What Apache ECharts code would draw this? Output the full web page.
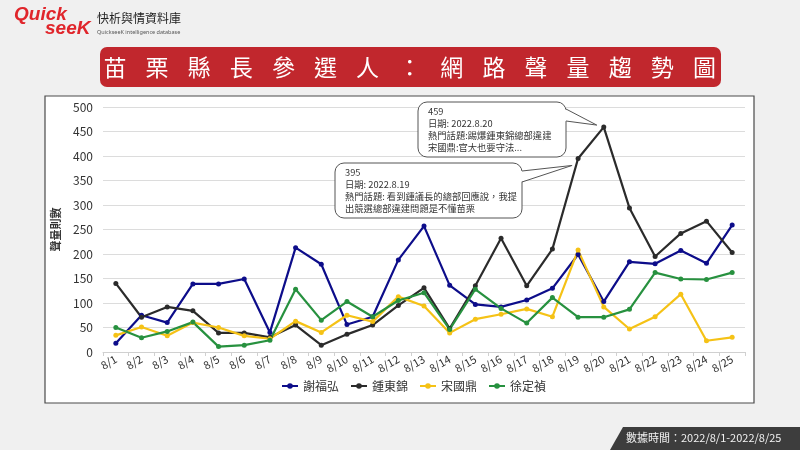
<!DOCTYPE html>
<html>
<head>
<meta charset="utf-8">
<script src="https://cdn.jsdelivr.net/npm/echarts@6/dist/echarts.min.js"></script>
<style>
html,body{margin:0;padding:0;background:#f0f0f0;}
#c{width:800px;height:450px;}
</style>
</head>
<body>
<div id="c"></div>
<script>
var categories = ['8/1','8/2','8/3','8/4','8/5','8/6','8/7','8/8','8/9','8/10','8/11','8/12','8/13','8/14','8/15','8/16','8/17','8/18','8/19','8/20','8/21','8/22','8/23','8/24','8/25'];
var seriesNames = ['謝福弘','鍾東錦','宋國鼎','徐定禎'];
var xieFuHong   = [18,75,60,139,139,149,40,213,179,56,72,188,257,136,97,92,106,130,199,103,184,180,207,181,259];
var zhongDongJin= [140,71,92,84,39,39,30,55,14,36,55,95,131,48,135,232,135,210,395,459,294,195,242,267,203];
var songGuoDing = [34,51,33,60,50,33,27,63,40,75,62,113,94,39,67,77,88,72,208,92,47,72,118,23,30];
var xuDingZhen  = [50,29,42,61,11,14,24,128,65,103,72,105,121,46,128,89,59,111,71,71,87,162,149,148,162];
var yTicks = [0,50,100,150,200,250,300,350,400,450,500];
var titleChars = ['苗','栗','縣','長','參','選','人','：','網','路','聲','量','趨','勢','圖'];
var callouts = [
  {cat:'8/20', series:1, lines:['459','日期: 2022.8.20','熱門話題:踢爆鍾東錦總部違建','宋國鼎:官大也要守法...']},
  {cat:'8/19', series:1, lines:['395','日期: 2022.8.19','熱門話題: 看到鍾議長的總部回應說，我提','出競選總部違建問題是不懂苗栗']}
];
var colors = ['#0d0d8a','#2b2b2b','#f5c216','#27913f'];
var FONT = '"Noto Sans CJK TC","Noto Sans",sans-serif';

var chart = echarts.init(document.getElementById('c'));
var dataArr = [xieFuHong, zhongDongJin, songGuoDing, xuDingZhen];

function baseGraphics(){
  var g = [];
  g.push({type:'rect', z:-10, shape:{x:45,y:96,width:709,height:307}, style:{fill:'#ffffff', stroke:'#4a4a4a', lineWidth:1.2}});
  // logo
  g.push({type:'text', z:5, x:14, y:5, style:{text:'Quick', font:'italic bold 19px "Liberation Sans",sans-serif', fill:'#e0252b'}});
  g.push({type:'text', z:5, x:45, y:19, style:{text:'seeK', font:'italic bold 19px "Liberation Sans",sans-serif', fill:'#e0252b'}});
  g.push({type:'text', z:5, x:97, y:12, style:{text:'快析與情資料庫', font:'12px "Noto Sans CJK TC",sans-serif', fill:'#222'}});
  g.push({type:'text', z:5, x:97, y:29, style:{text:'QuickseeK intelligence database', font:'5.5px "Noto Sans",sans-serif', fill:'#555'}});
  // title bar
  g.push({type:'rect', z:5, shape:{x:100,y:47,width:621,height:40,r:7}, style:{fill:'#c1272d'}});
  for (var i=0;i<titleChars.length;i++){
    g.push({type:'text', z:6, x:115+42.1*i, y:67, style:{text:titleChars[i], font:'23px "Noto Sans CJK TC",sans-serif', fill:'#ffffff', align:'center', verticalAlign:'middle'}});
  }
  // footer
  g.push({type:'polygon', z:5, shape:{points:[[623,427],[800,427],[800,450],[610,450]]}, style:{fill:'#3d3d3d'}});
  g.push({type:'text', z:6, x:626, y:438, style:{text:'數據時間：2022/8/1-2022/8/25', font:'11px "Noto Sans CJK TC",sans-serif', fill:'#f2f2f2', verticalAlign:'middle'}});
  return g;
}

var option = {
  backgroundColor:'#f0f0f0',
  animation:false,
  color: colors,
  grid:{left:103, right:55, top:107, bottom:98},
  legend:{
    data: seriesNames, left:276, top:375, itemWidth:16, itemHeight:7, itemGap:11,
    textStyle:{fontSize:12, color:'#333', fontFamily:FONT}
  },
  xAxis:{
    type:'category', data:categories, boundaryGap:true,
    axisLine:{lineStyle:{color:'#d0d0d0'}},
    axisTick:{show:true, lineStyle:{color:'#d0d0d0'}, length:4},
    axisLabel:{interval:0, rotate:30, fontSize:11, color:'#333', fontFamily:FONT, margin:6}
  },
  yAxis:{
    type:'value', min:0, max:500, interval:50,
    name:'聲量則數', nameLocation:'middle', nameRotate:90, nameGap:42,
    nameTextStyle:{fontSize:11, color:'#333', fontWeight:'bold', fontFamily:FONT},
    axisLine:{show:false}, axisTick:{show:false},
    axisLabel:{fontSize:12, color:'#333', fontFamily:FONT, margin:10},
    splitLine:{lineStyle:{color:'#dcdcdc', width:1}}
  },
  series: seriesNames.map(function(n,i){
    return {name:n, type:'line', data:dataArr[i], symbol:'circle', symbolSize:5,
      lineStyle:{width:2.2, color:colors[i]}, itemStyle:{color:colors[i]}};
  }),
  graphic: baseGraphics()
};
chart.setOption(option);

var boxes = [
  {x:418, y:102, w:148, h:55, b1:[566,109], b2:[566,121], off:[-7,-2]},
  {x:335, y:163, w:187, h:55, b1:[522,171], b2:[522,182], off:[-6,7]}
];
var g = baseGraphics();
callouts.forEach(function(c, k){
  var idx = categories.indexOf(c.cat);
  var val = dataArr[c.series][idx];
  var p = chart.convertToPixel({seriesIndex:c.series}, [idx, val]);
  var b = boxes[k];
  var tip = [p[0]+b.off[0], p[1]+b.off[1]];
  g.push({type:'rect', z:20, shape:{x:b.x,y:b.y,width:b.w,height:b.h,r:9}, style:{fill:'#ffffff', stroke:'#555', lineWidth:1}});
  g.push({type:'polygon', z:21, shape:{points:[[b.b1[0]-1.5,b.b1[1]], tip, [b.b2[0]-1.5,b.b2[1]]]}, style:{fill:'#ffffff', stroke:null}});
  g.push({type:'polyline', z:22, shape:{points:[b.b1, tip, b.b2]}, style:{stroke:'#555', lineWidth:1, fill:null}});
  c.lines.forEach(function(t, j){
    g.push({type:'text', z:23, x:b.x+10, y:b.y+9+j*12.2, style:{text:t, font:'9.3px "Noto Sans CJK TC",sans-serif', fill:'#333', verticalAlign:'middle'}});
  });
});
chart.setOption({graphic: g}, {replaceMerge:['graphic']});
</script>
</body>
</html>
